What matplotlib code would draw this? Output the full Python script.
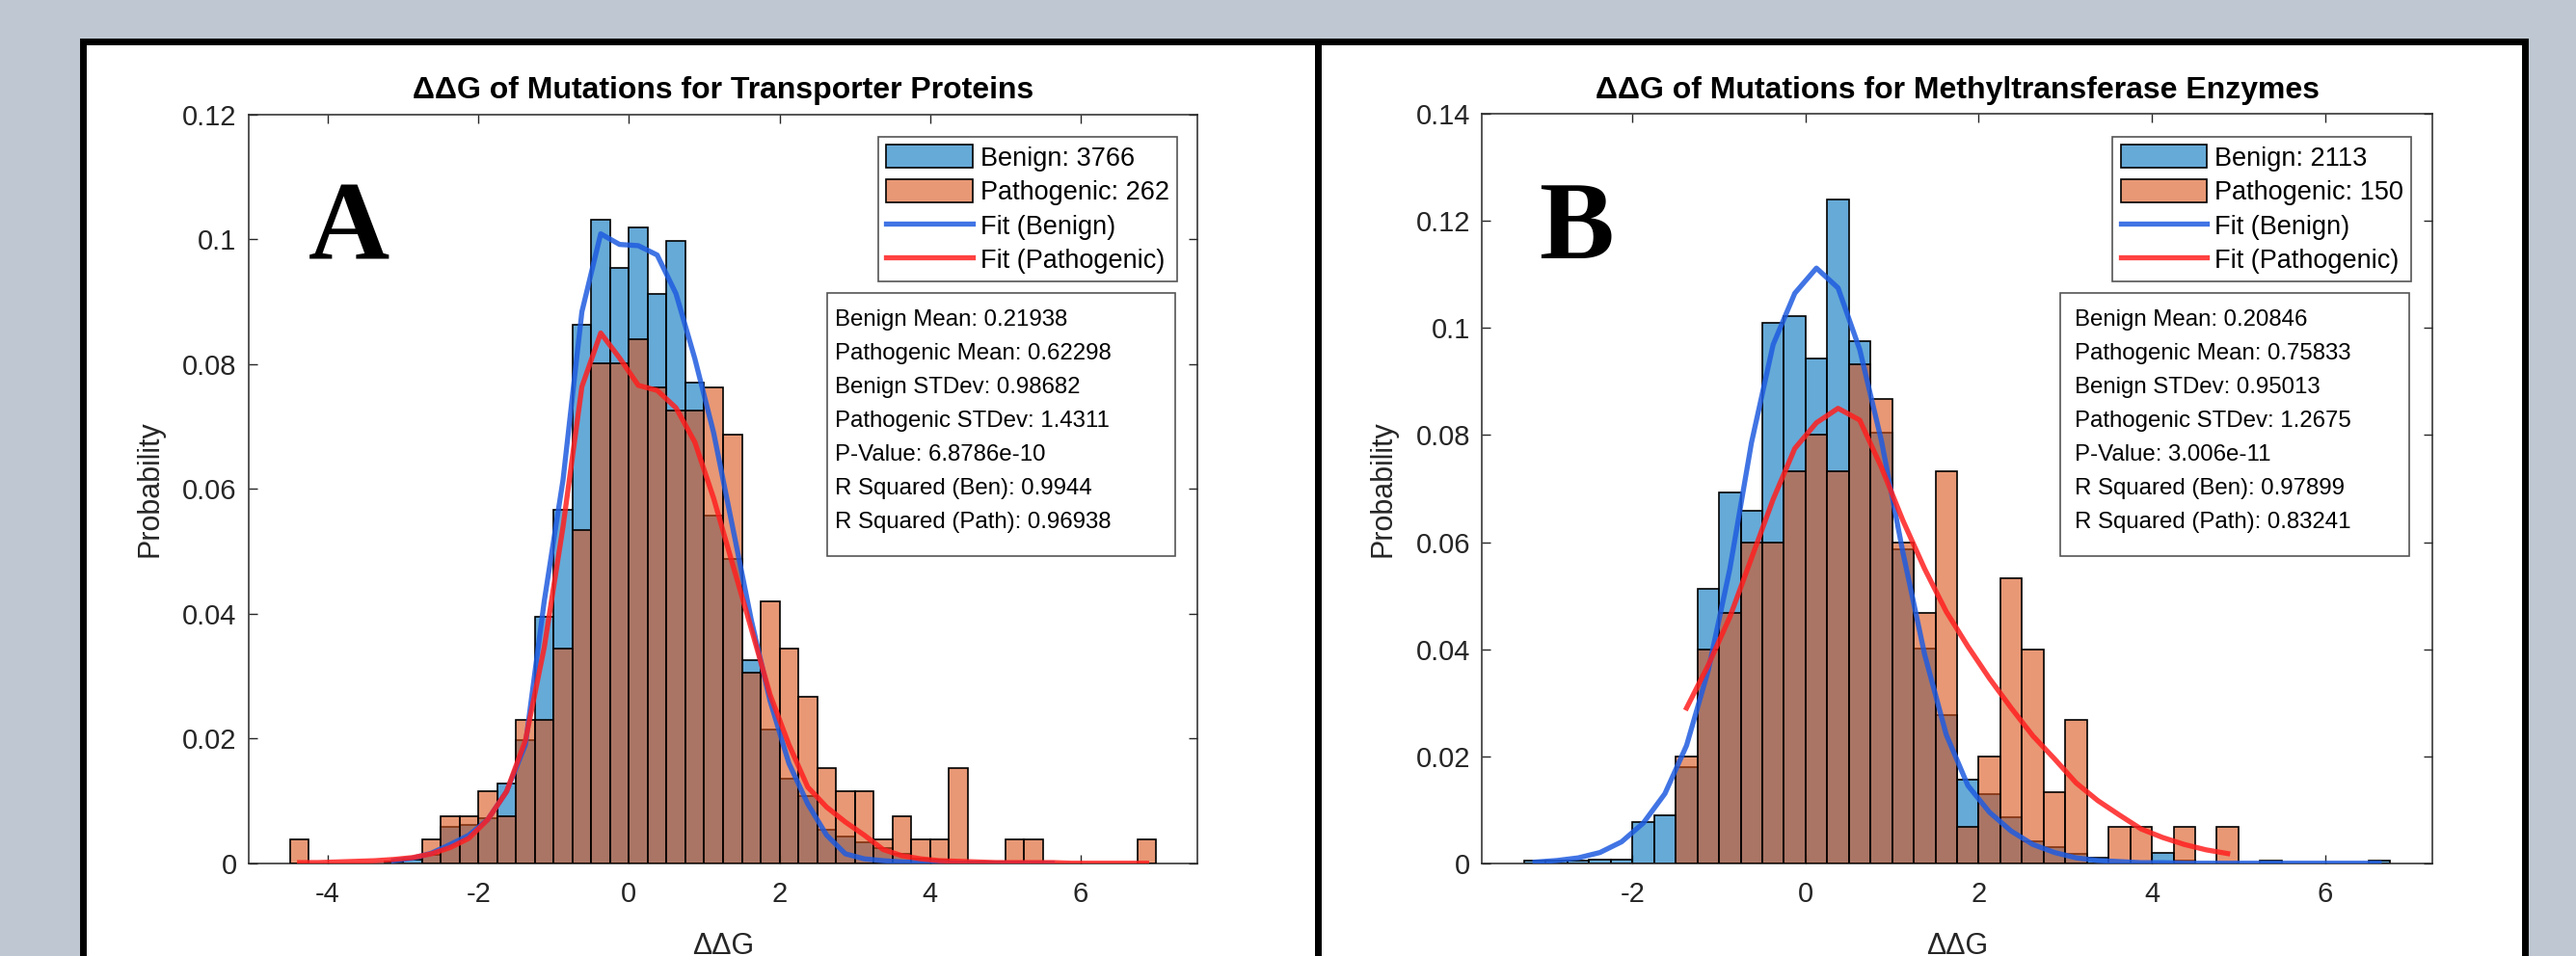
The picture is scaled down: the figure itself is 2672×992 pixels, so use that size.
import matplotlib.pyplot as plt
from matplotlib.patches import Rectangle, Patch
from matplotlib.lines import Line2D
import numpy as np

plt.rcParams['font.family'] = ['Liberation Sans', 'DejaVu Sans']
plt.rcParams['axes.unicode_minus'] = False

BIN_W = 0.25

# ---- panel A: transporter proteins ----
a_title = "ΔΔG of Mutations for Transporter Proteins"
a_bin_start = -4.5
a_benign = [0, 0, 0, 0, 0, 0.0003, 0.0005, 0.0014, 0.0058, 0.0061,
            0.0072, 0.0128, 0.0197, 0.0395, 0.0566, 0.0863, 0.1032, 0.0954, 0.1020, 0.0912,
            0.0997, 0.0771, 0.0558, 0.0488, 0.0325, 0.0214, 0.0136, 0.0107, 0.0054, 0.0043,
            0.0034, 0.0024, 0.0015, 0.0008, 0.0005, 0.0003, 0.0003, 0.0003, 0.0003, 0,
            0, 0, 0, 0, 0, 0]
a_path = [0.0038, 0, 0, 0, 0, 0, 0, 0.0038, 0.0076, 0.0076,
          0.0115, 0.0076, 0.0229, 0.0229, 0.0344, 0.0534, 0.0802, 0.0802, 0.0840, 0.0763,
          0.0725, 0.0725, 0.0763, 0.0687, 0.0305, 0.0420, 0.0344, 0.0267, 0.0153, 0.0115,
          0.0115, 0.0038, 0.0076, 0.0038, 0.0038, 0.0153, 0, 0, 0.0038, 0.0038,
          0, 0, 0, 0, 0, 0.0038]
a_fit_benign_first = 5      # fit evaluated at bin centres from this bin on
a_fit_benign = [0.0004, 0.0008, 0.0016, 0.0030, 0.0045, 0.0070, 0.0115, 0.0190, 0.0420, 0.0615,
                0.0884, 0.1009, 0.0992, 0.0990, 0.0975, 0.0913, 0.0809, 0.0690, 0.0540, 0.0390,
                0.0260, 0.0160, 0.0095, 0.0045, 0.0015, 0.0007, 0.0004, 0.0002, 0.0001, 0.0001,
                0, 0, 0, 0, 0, 0]
a_fit_path_first = 0
a_fit_path = [0.0001, 0.0001, 0.0002, 0.0003, 0.0004, 0.0006, 0.0009, 0.0015, 0.0025, 0.0040,
              0.0070, 0.0115, 0.0197, 0.0346, 0.0540, 0.0764, 0.0850, 0.0810, 0.0766, 0.0758,
              0.0730, 0.0675, 0.0585, 0.0480, 0.0376, 0.0270, 0.0190, 0.0122, 0.0090, 0.0066,
              0.0045, 0.0022, 0.0012, 0.0007, 0.0004, 0.0003, 0.0002, 0.0001, 0.0001, 0.0001,
              0.0001, 0, 0, 0, 0, 0]
a_n = [3766, 262]
a_stats = ["Benign Mean: 0.21938", "Pathogenic Mean: 0.62298", "Benign STDev: 0.98682",
           "Pathogenic STDev: 1.4311", "P-Value: 6.8786e-10", "R Squared (Ben): 0.9944",
           "R Squared (Path): 0.96938"]
a_xticks = [-4, -2, 0, 2, 4, 6]
a_yticks = [0, 0.02, 0.04, 0.06, 0.08, 0.1, 0.12]
a_yticklabels = ["0", "0.02", "0.04", "0.06", "0.08", "0.1", "0.12"]

# ---- panel B: methyltransferase enzymes ----
b_title = "ΔΔG of Mutations for Methyltransferase Enzymes"
b_bin_start = -3.25
b_benign = [0.0005, 0.0005, 0.0005, 0.0006, 0.0006, 0.0076, 0.0090, 0.0180, 0.0512, 0.0692,
            0.0659, 0.1010, 0.1023, 0.0943, 0.1240, 0.0975, 0.0804, 0.0586, 0.0401, 0.0276,
            0.0157, 0.0130, 0.0086, 0.0041, 0.0030, 0.0017, 0.0010, 0, 0, 0.0020,
            0.0005, 0, 0, 0, 0.0005, 0, 0, 0, 0, 0.0005]
b_path = [0, 0, 0, 0, 0, 0, 0, 0.0200, 0.0400, 0.0467,
          0.0600, 0.0600, 0.0733, 0.0800, 0.0733, 0.0933, 0.0867, 0.0600, 0.0467, 0.0733,
          0.0067, 0.0200, 0.0533, 0.0400, 0.0133, 0.0267, 0, 0.0067, 0.0067, 0,
          0.0067, 0, 0.0067, 0, 0, 0, 0, 0, 0, 0]
b_fit_benign_first = 0
b_fit_benign = [0.0002, 0.0005, 0.0010, 0.0020, 0.0040, 0.0075, 0.0130, 0.0220, 0.0360, 0.0550,
                0.0786, 0.0969, 0.1065, 0.1112, 0.1075, 0.0960, 0.0790, 0.0580, 0.0390, 0.0240,
                0.0145, 0.0095, 0.0060, 0.0035, 0.0020, 0.0010, 0.0005, 0.0003, 0.0001, 0.0001,
                0, 0, 0, 0, 0, 0, 0, 0, 0, 0]
b_fit_path_first = 7
b_fit_path = [0.0290, 0.0370, 0.0460, 0.0570, 0.0680, 0.0775, 0.0823, 0.0850, 0.0828, 0.0740,
              0.0640, 0.0550, 0.0470, 0.0405, 0.0345, 0.0290, 0.0238, 0.0195, 0.0150, 0.0117,
              0.0090, 0.0064, 0.0048, 0.0035, 0.0025, 0.0018]
b_n = [2113, 150]
b_stats = ["Benign Mean: 0.20846", "Pathogenic Mean: 0.75833", "Benign STDev: 0.95013",
           "Pathogenic STDev: 1.2675", "P-Value: 3.006e-11", "R Squared (Ben): 0.97899",
           "R Squared (Path): 0.83241"]
b_xticks = [-2, 0, 2, 4, 6]
b_yticks = [0, 0.02, 0.04, 0.06, 0.08, 0.1, 0.12, 0.14]
b_yticklabels = ["0", "0.02", "0.04", "0.06", "0.08", "0.1", "0.12", "0.14"]

BLUE_FACE = (0.0, 0.447, 0.741, 0.6)
ORANGE_FACE = (0.851, 0.325, 0.098, 0.6)
BLUE_LINE = (0.12, 0.36, 0.88, 0.85)
RED_LINE = (1.0, 0.12, 0.12, 0.85)
AX_COL = '#262626'


def draw_panel(ax, letter, title, start, benign, path, fb_first, fit_b, fp_first, fit_p,
               n, stats, xlim, ylim, xticks, yticks, yticklabels, leg_anchor, box, text_x):
    benign = np.array(benign)
    path = np.array(path)
    edges = start + BIN_W * np.arange(len(benign) + 1)
    centres = edges[:-1] + BIN_W / 2
    mb = benign > 0
    mp = path > 0
    ax.bar(edges[:-1][mb], benign[mb], width=BIN_W, align='edge', color=BLUE_FACE,
           edgecolor='black', linewidth=1.2, zorder=2)
    ax.bar(edges[:-1][mp], path[mp], width=BIN_W, align='edge', color=ORANGE_FACE,
           edgecolor='black', linewidth=1.2, zorder=3)
    ax.plot(centres[fb_first:fb_first + len(fit_b)], fit_b, color=BLUE_LINE, lw=3.8, zorder=4)
    ax.plot(centres[fp_first:fp_first + len(fit_p)], fit_p, color=RED_LINE, lw=3.8, zorder=4)

    ax.set_xlim(*xlim)
    ax.set_ylim(*ylim)
    ax.set_xticks(xticks)
    ax.set_xticklabels([str(t) for t in xticks])
    ax.set_yticks(yticks)
    ax.set_yticklabels(yticklabels)
    ax.tick_params(direction='in', length=6.5, width=1, top=True, right=True,
                   labelsize=21, colors=AX_COL)
    ax.tick_params(axis='x', pad=13)
    ax.tick_params(axis='y', pad=9)
    for s in ax.spines.values():
        s.set_color(AX_COL)
        s.set_linewidth(1.1)

    ax.set_title(title, fontsize=23, fontweight='bold', pad=12, color='black')
    ax.set_xlabel("ΔΔG", fontsize=22, color=AX_COL)
    ax.xaxis.set_label_coords(0.5, -0.092)
    ax.set_ylabel("Probability", fontsize=22, color=AX_COL)
    ax.yaxis.set_label_coords(-0.089, 0.5)

    ax.text(letter[1], letter[2], letter[0], transform=ax.transAxes, ha='center', va='baseline',
            fontsize=84, fontweight='bold', family='Liberation Serif', zorder=6)

    handles = [Patch(facecolor=BLUE_FACE, edgecolor='black', lw=1.2),
               Patch(facecolor=ORANGE_FACE, edgecolor='black', lw=1.2),
               Line2D([], [], color=BLUE_LINE, lw=3.8),
               Line2D([], [], color=RED_LINE, lw=3.8)]
    labels = [f"Benign: {n[0]}", f"Pathogenic: {n[1]}", "Fit (Benign)", "Fit (Pathogenic)"]
    leg = ax.legend(handles, labels, loc='upper right', bbox_to_anchor=leg_anchor,
                    borderaxespad=0, fontsize=19.5, handlelength=3.3, handleheight=1.0,
                    labelspacing=0.3, handletextpad=0.3, borderpad=0.3, fancybox=False,
                    edgecolor='#555555', framealpha=1)
    leg.get_frame().set_linewidth(1.2)
    leg.set_zorder(7)

    ax.add_patch(Rectangle((box[0], box[1]), box[2], box[3], transform=ax.transAxes,
                           facecolor='white', edgecolor='#555555', lw=1.2, zorder=7))
    top = box[1] + box[3]
    for k, line in enumerate(stats):
        ax.text(text_x, top - 0.036 - k * 0.0451, line, transform=ax.transAxes,
                ha='left', va='center', fontsize=17.3, color='black', zorder=8)


fig = plt.figure(figsize=(26.72, 9.92), dpi=100, facecolor='#BFC8D2')

# white panels with thick black borders
for x0, x1 in [(86, 1367), (1367, 2619)]:
    fig.patches.append(Rectangle((x0 / 2672, -0.05), (x1 - x0) / 2672, 1.05 - 43 / 992,
                                 transform=fig.transFigure, facecolor='white',
                                 edgecolor='black', lw=5, zorder=-5))

ax_a = fig.add_axes([0.09656, 0.09708, 0.36826, 0.78296])
ax_b = fig.add_axes([0.57541, 0.09708, 0.36894, 0.78367])

draw_panel(ax_a, ("A", 0.1057, 0.8069), a_title, a_bin_start, a_benign, a_path,
           a_fit_benign_first, a_fit_benign, a_fit_path_first, a_fit_path, a_n, a_stats,
           (-5.05, 7.55), (0, 0.12), a_xticks, a_yticks, a_yticklabels,
           (0.9787, 0.9704), (0.6098, 0.4103, 0.3668, 0.3515), 0.6179)
draw_panel(ax_b, ("B", 0.0989, 0.8069), b_title, b_bin_start, b_benign, b_path,
           b_fit_benign_first, b_fit_benign, b_fit_path_first, b_fit_path, b_n, b_stats,
           (-3.735, 7.243), (0, 0.14), b_xticks, b_yticks, b_yticklabels,
           (0.9774, 0.9695), (0.6081, 0.4100, 0.3673, 0.3511), 0.6234)

fig.savefig("out.png", dpi=100, facecolor=fig.get_facecolor())
